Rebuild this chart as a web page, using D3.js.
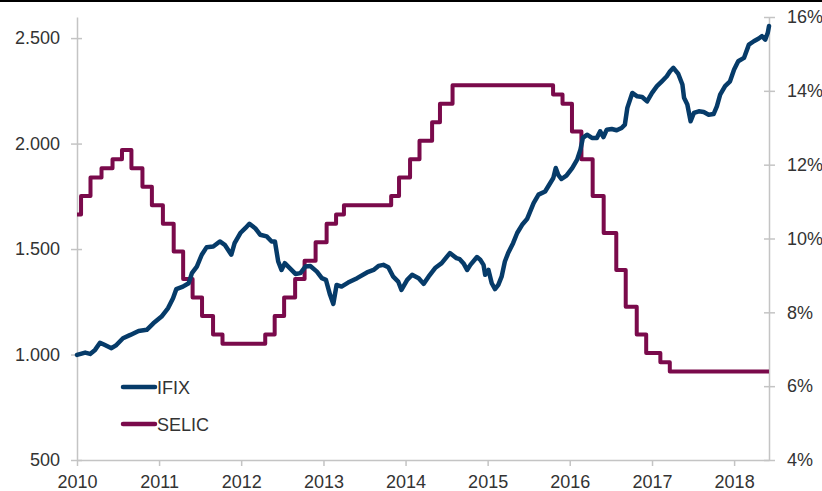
<!DOCTYPE html>
<html>
<head>
<meta charset="utf-8">
<script src="https://cdn.jsdelivr.net/npm/d3@7"></script>
<style>
  body { margin: 0; background: #fff; }
  text { font-family: "Liberation Sans", Arial, sans-serif; fill: #333; }
</style>
</head>
<body>
<div id="chart"></div>
<script>
// IFIX (indice, eixo esquerdo) - datas em anos decimais
var ifixYears = [2010.00, 2010.10, 2010.16, 2010.22, 2010.28, 2010.34, 2010.42, 2010.48, 2010.56, 2010.65,
    2010.75, 2010.85, 2010.93, 2011.03, 2011.11, 2011.17, 2011.21, 2011.29, 2011.36, 2011.40,
    2011.46, 2011.52, 2011.58, 2011.66, 2011.74, 2011.80, 2011.88, 2011.92, 2011.99, 2012.05,
    2012.10, 2012.17, 2012.23, 2012.31, 2012.37, 2012.41, 2012.45, 2012.49, 2012.53, 2012.59,
    2012.66, 2012.72, 2012.78, 2012.84, 2012.92, 2012.98, 2013.03, 2013.08, 2013.12, 2013.16,
    2013.22, 2013.30, 2013.41, 2013.53, 2013.61, 2013.67, 2013.73, 2013.79, 2013.85, 2013.91,
    2013.95, 2014.02, 2014.08, 2014.16, 2014.22, 2014.28, 2014.36, 2014.44, 2014.54, 2014.62,
    2014.66, 2014.71, 2014.75, 2014.79, 2014.87, 2014.91, 2014.95, 2014.97, 2015.01, 2015.05,
    2015.09, 2015.13, 2015.17, 2015.21, 2015.25, 2015.31, 2015.36, 2015.42, 2015.48, 2015.56,
    2015.62, 2015.70, 2015.75, 2015.80, 2015.83, 2015.86, 2015.90, 2015.96, 2016.03, 2016.09,
    2016.13, 2016.16, 2016.21, 2016.27, 2016.33, 2016.37, 2016.41, 2016.45, 2016.51, 2016.57,
    2016.63, 2016.67, 2016.70, 2016.76, 2016.82, 2016.88, 2016.94, 2017.00, 2017.06, 2017.12,
    2017.18, 2017.22, 2017.26, 2017.32, 2017.37, 2017.39, 2017.43, 2017.47, 2017.51, 2017.57,
    2017.63, 2017.69, 2017.75, 2017.79, 2017.83, 2017.89, 2017.95, 2018.00, 2018.05, 2018.12,
    2018.18, 2018.24, 2018.30, 2018.34, 2018.38, 2018.41, 2018.425];
var ifixValues = [998, 1009, 1003, 1022, 1056, 1045, 1030, 1045, 1077, 1093,
    1112, 1117, 1148, 1180, 1220, 1267, 1310, 1322, 1338, 1386,
    1417, 1473, 1509, 1512, 1536, 1520, 1473, 1528, 1576, 1599,
    1620, 1599, 1568, 1560, 1536, 1536, 1441, 1401, 1433, 1410,
    1382, 1386, 1417, 1420, 1393, 1362, 1354, 1283, 1240, 1330,
    1322, 1341, 1362, 1389, 1401, 1420, 1425, 1414, 1369, 1346,
    1306, 1354, 1378, 1362, 1335, 1369, 1410, 1433, 1481, 1457,
    1452, 1430, 1401, 1425, 1462, 1449, 1425, 1378, 1401, 1338,
    1310, 1330, 1369, 1441, 1481, 1528, 1576, 1615, 1642, 1718,
    1758, 1773, 1805, 1837, 1884, 1852, 1832, 1848, 1884, 1924,
    1971, 2027, 2042, 2027, 2027, 2058, 2031, 2066, 2069, 2063,
    2074, 2090, 2169, 2240, 2224, 2221, 2200, 2240, 2272, 2295,
    2319, 2343, 2359, 2330, 2280, 2217, 2185, 2106, 2145, 2153,
    2150, 2137, 2140, 2176, 2232, 2272, 2295, 2351, 2390, 2406,
    2469, 2485, 2498, 2509, 2493, 2525, 2557];

// SELIC (% a.a., eixo direito) - datas de mudanca, degraus
var selicDates = ['2010-01-01', '2010-01-19', '2010-03-02', '2010-04-20', '2010-06-08', '2010-07-20',
    '2010-08-31', '2010-10-19', '2010-11-30', '2011-01-18', '2011-03-07', '2011-04-18', '2011-05-30',
    '2011-07-11', '2011-08-29', '2011-10-10', '2012-04-17', '2012-05-29', '2012-07-10', '2012-08-28',
    '2012-10-09', '2012-11-27', '2013-01-15', '2013-02-26', '2013-04-02', '2013-10-29', '2013-12-03',
    '2014-01-21', '2014-03-04', '2014-04-29', '2014-06-03', '2014-07-29', '2015-10-19', '2015-11-30',
    '2016-01-11', '2016-02-22', '2016-04-12', '2016-05-31', '2016-07-26', '2016-09-06', '2016-10-25',
    '2016-12-06', '2017-02-07', '2017-03-21', '2018-06-05'];
var selicValues = [10.65, 11.15, 11.65, 11.90, 12.15, 12.40,
    11.90, 11.40, 10.90, 10.40, 9.65, 8.90, 8.40,
    7.90, 7.40, 7.15, 7.40, 7.90, 8.40, 8.90,
    9.40, 9.90, 10.40, 10.65, 10.90, 11.15, 11.65,
    12.15, 12.65, 13.15, 13.65, 14.15, 13.90, 13.65,
    12.90, 12.15, 11.15, 10.15, 9.15, 8.15, 7.40,
    6.90, 6.65, 6.40, 6.40];

var leftTicks = [500, 1000, 1500, 2000, 2500];
var rightTicks = [4, 6, 8, 10, 12, 14, 16];
var legendNames = ['IFIX', 'SELIC'];

var width = 822;
var height = 491;
var colorIfix = '#063b69';
var colorSelic = '#7a0a4b';
var axisColor = '#c4c4c4';

function decToDate(d) {
    var y = Math.floor(d);
    var s = new Date(y, 0, 1), e = new Date(y + 1, 0, 1);
    return new Date(+s + (d - y) * (e - s));
}
var parseDate = d3.timeParse('%Y-%m-%d');

var ifix = ifixYears.map(function (d, i) { return { date: decToDate(d), value: ifixValues[i] }; });
var selic = selicDates.map(function (d, i) { return { date: parseDate(d), value: selicValues[i] }; });

var svg = d3.select('#chart')
    .append('svg')
    .attr('width', width)
    .attr('height', height);

// barra preta no topo
svg.append('rect')
    .attr('x', 0).attr('y', 0)
    .attr('width', width).attr('height', 2)
    .attr('fill', '#000');

var scaleX = d3.scaleTime()
    .domain([new Date(2010, 0, 1), decToDate(2018.425)])
    .range([77, 769]);
var scaleL = d3.scaleLinear().domain([500, 2600]).range([460, 17]);
var scaleR = d3.scaleLinear().domain([4, 16]).range([460, 17]);

var fmtL = d3.formatLocale({ decimal: ',', thousands: '.', grouping: [3], currency: ['R$', ''] }).format(',d');

// eixo x
var xAxis = d3.axisBottom(scaleX)
    .ticks(d3.timeYear.every(1))
    .tickFormat(d3.timeFormat('%Y'))
    .tickSizeInner(6)
    .tickSizeOuter(0)
    .tickPadding(9);
var gx = svg.append('g')
    .attr('transform', 'translate(0,460)')
    .call(xAxis);

// eixo esquerdo
var yAxisL = d3.axisLeft(scaleL)
    .tickValues(leftTicks)
    .tickFormat(fmtL)
    .tickSizeInner(6)
    .tickSizeOuter(0)
    .tickPadding(11);
var gl = svg.append('g')
    .attr('transform', 'translate(77,0)')
    .call(yAxisL);
gl.selectAll('.tick line').attr('x2', 5).attr('x1', -6);

// eixo direito
var yAxisR = d3.axisRight(scaleR)
    .tickValues(rightTicks)
    .tickFormat(function (d) { return d + '%'; })
    .tickSizeInner(6)
    .tickSizeOuter(0)
    .tickPadding(12);
var gr = svg.append('g')
    .attr('transform', 'translate(769,0)')
    .call(yAxisR);
gr.selectAll('.tick line').attr('x1', -5).attr('x2', 6);

[gx, gl, gr].forEach(function (g) {
    g.select('.domain').attr('stroke', axisColor).attr('stroke-width', 1.5);
    g.selectAll('.tick line').attr('stroke', axisColor).attr('stroke-width', 1.5);
    g.selectAll('.tick text')
        .style('font-family', '"Liberation Sans", Arial, sans-serif')
        .style('font-size', '18px')
        .attr('fill', '#333');
});

// linhas
var lineSelic = d3.line()
    .x(function (d) { return scaleX(d.date); })
    .y(function (d) { return scaleR(d.value); })
    .curve(d3.curveStepAfter);
var lineIfix = d3.line()
    .x(function (d) { return scaleX(d.date); })
    .y(function (d) { return scaleL(d.value); });

svg.append('path')
    .datum(selic)
    .attr('d', lineSelic)
    .attr('fill', 'none')
    .attr('stroke', colorSelic)
    .attr('stroke-width', 4)
    .attr('stroke-linejoin', 'round');

svg.append('path')
    .datum(ifix)
    .attr('d', lineIfix)
    .attr('fill', 'none')
    .attr('stroke', colorIfix)
    .attr('stroke-width', 4.5)
    .attr('stroke-linejoin', 'round')
    .attr('stroke-linecap', 'round');

// legenda
var legend = svg.append('g')
    .selectAll('g')
    .data(legendNames)
    .enter()
    .append('g')
    .attr('transform', function (d, i) { return 'translate(123,' + (387 + i * 37) + ')'; });
legend.append('line')
    .attr('x1', 0).attr('x2', 32)
    .attr('stroke', function (d, i) { return i == 0 ? colorIfix : colorSelic; })
    .attr('stroke-width', 4.5)
    .attr('stroke-linecap', 'round');
legend.append('text')
    .attr('x', 34)
    .attr('y', 6.5)
    .style('font-size', '18px')
    .text(function (d) { return d; });
</script>
</body>
</html>
